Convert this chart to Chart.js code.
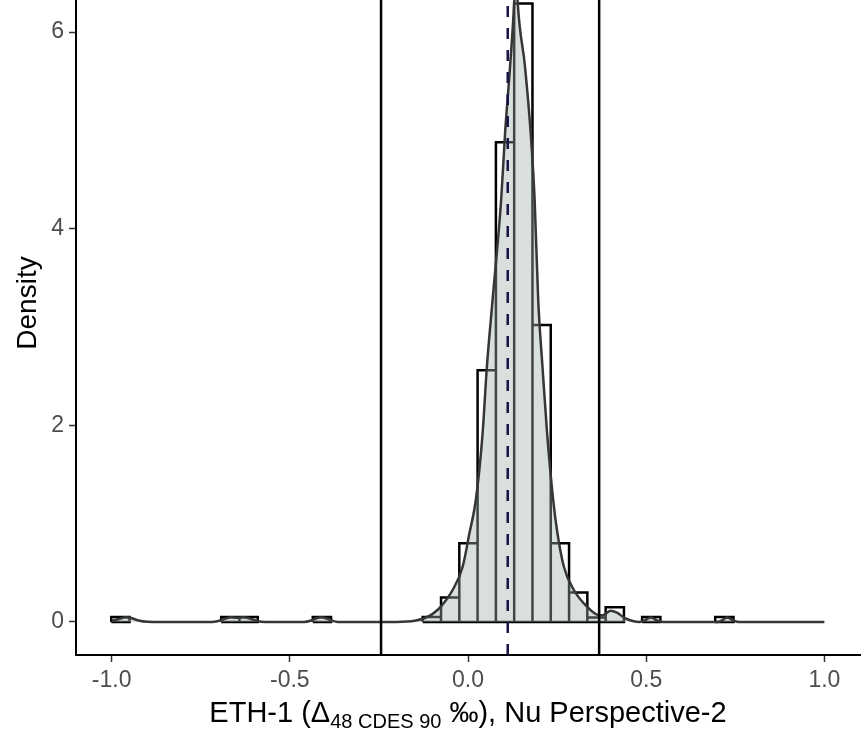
<!DOCTYPE html>
<html lang="en">
<head>
  <meta charset="UTF-8" />
  <title>ETH-1 density</title>
  <script src="https://cdn.jsdelivr.net/npm/chart.js@4.4.1/dist/chart.umd.min.js"></script>
  <style>
    body { margin: 0; background: white; }
    .chart-container { width: 865px; height: 738px; }
  </style>
</head>
<body>
  <div class="chart-container">
    <canvas id="densityChart"></canvas>
  </div>

  <script>
    // histogram bins (left edge, density)
    const binWidth = 0.0513;
    const binLeft = [-1.001, -0.6926, -0.6413, -0.4356, -0.1271, -0.0757, -0.0244, 0.0269, 0.0783,
                     0.1296, 0.1809, 0.2323, 0.2836, 0.3349, 0.3863, 0.4886, 0.6937];
    const binHeight = [0.05, 0.05, 0.05, 0.05, 0.05, 0.25, 0.80, 2.56, 4.88,
                       6.29, 3.02, 0.80, 0.30, 0.045, 0.15, 0.05, 0.05];

    // kernel density curve
    const densX = [-1.000, -0.980, -0.960, -0.945, -0.925, -0.900, -0.860,
                   -0.720, -0.700, -0.680, -0.665, -0.648, -0.630, -0.612, -0.592, -0.570,
                   -0.460, -0.440, -0.425, -0.412, -0.398, -0.383, -0.365,
                   -0.200, -0.170, -0.150, -0.123, -0.100, -0.076, -0.043, -0.015,
                   0.004, 0.022, 0.041, 0.053, 0.069, 0.093, 0.104, 0.118, 0.130, 0.1345,
                   0.139, 0.160, 0.176, 0.187, 0.197, 0.209, 0.222, 0.239, 0.251, 0.269,
                   0.297, 0.334, 0.362, 0.378, 0.400, 0.418, 0.440, 0.465,
                   0.480, 0.495, 0.513, 0.531, 0.548,
                   0.700, 0.712, 0.727, 0.745, 0.760, 1.000];
    const densY = [0.010, 0.030, 0.048, 0.040, 0.015, 0.002, 0.000,
                   0.000, 0.010, 0.035, 0.048, 0.044, 0.048, 0.035, 0.010, 0.000,
                   0.000, 0.015, 0.038, 0.048, 0.038, 0.015, 0.000,
                   0.000, 0.004, 0.012, 0.038, 0.080, 0.156, 0.325, 0.562,
                   0.902, 1.241, 1.919, 2.596, 3.275, 4.292, 4.970, 5.647, 6.326, 6.720,
                   6.326, 5.647, 4.970, 4.292, 3.275, 2.596, 1.919, 1.241, 0.902, 0.562,
                   0.325, 0.156, 0.075, 0.068, 0.115, 0.095, 0.040, 0.008,
                   0.000, 0.015, 0.045, 0.015, 0.000,
                   0.000, 0.015, 0.045, 0.015, 0.000, 0.000];

    const limitX = [-0.244, 0.368];   // solid lines
    const meanX = 0.1115;             // dashed line

    const xTicks = [-1, -0.5, 0, 0.5, 1];
    const yTicks = [0, 2, 4, 6];
    const xRange = [-1.1, 1.1];
    const yRange = [-0.336, 6.326];

    const FONT = '"Liberation Sans", Arial, sans-serif';

    // rectangles of the histogram, separated by gaps
    const histPoints = [];
    binLeft.forEach((l, i) => {
      const r = l + binWidth, h = binHeight[i];
      histPoints.push({x: l, y: 0}, {x: l, y: h}, {x: r, y: h}, {x: r, y: 0}, {x: l, y: 0}, {x: l, y: null});
    });

    const vline = x => [{x: x, y: yRange[0]}, {x: x, y: yRange[1]}];

    const axisTitles = {
      id: 'axisTitles',
      afterDraw(chart) {
        const c = chart.ctx;
        c.save();
        c.fillStyle = '#000';
        // y title
        c.font = '28px ' + FONT;
        c.textAlign = 'center';
        c.textBaseline = 'middle';
        c.translate(28, 303);
        c.rotate(-Math.PI / 2);
        c.fillText('Density', 0, 0);
        c.restore();

        // x title with subscript
        c.save();
        c.fillStyle = '#000';
        c.textBaseline = 'alphabetic';
        c.textAlign = 'left';
        const parts = [
          {t: 'ETH-1 (Δ', f: '29px ' + FONT, dy: 0},
          {t: '48 CDES 90', f: '20px ' + FONT, dy: 6},
          {t: ' ‰), Nu Perspective-2', f: '29px ' + FONT, dy: 0}
        ];
        let total = 0;
        parts.forEach(p => { c.font = p.f; p.w = c.measureText(p.t).width; total += p.w; });
        let x = (chart.chartArea.left + chart.chartArea.right) / 2 - total / 2;
        const base = 722;
        parts.forEach(p => { c.font = p.f; c.fillText(p.t, x, base + p.dy); x += p.w; });
        c.restore();
      }
    };

    const ctx = document.getElementById('densityChart').getContext('2d');
    new Chart(ctx, {
      type: 'line',
      data: {
        datasets: [
          {
            data: vline(limitX[0]),
            borderColor: '#000', borderWidth: 2.5, pointRadius: 0
          },
          {
            data: vline(limitX[1]),
            borderColor: '#000', borderWidth: 2.5, pointRadius: 0
          },
          {
            data: vline(meanX),
            borderColor: '#191446', borderWidth: 2.5, borderDash: [11, 11], pointRadius: 0
          },
          {
            data: densX.map((x, i) => ({x: x, y: densY[i]})),
            borderColor: '#363636', borderWidth: 2.5, pointRadius: 0,
            cubicInterpolationMode: 'monotone',
            fill: 'origin', backgroundColor: 'rgba(160,175,168,0.4)'
          },
          {
            data: histPoints,
            borderColor: '#000', borderWidth: 2.5, pointRadius: 0,
            spanGaps: false, borderJoinStyle: 'miter'
          }
        ]
      },
      options: {
        responsive: true,
        maintainAspectRatio: false,
        animation: false,
        layout: { padding: { top: 0, right: 5, left: 0, bottom: 0 } },
        plugins: {
          legend: { display: false },
          tooltip: { enabled: false }
        },
        scales: {
          x: {
            type: 'linear',
            min: xRange[0],
            max: xRange[1],
            afterBuildTicks: s => { s.ticks = xTicks.map(v => ({value: v})); },
            afterFit: s => { s.height = 83; s.paddingLeft = 0; s.paddingRight = 0; },
            ticks: {
              color: '#4d4d4d',
              font: { family: FONT, size: 23 },
              padding: 5,
              maxRotation: 0,
              callback: v => v.toFixed(1)
            },
            grid: { drawOnChartArea: false, tickLength: 7, tickColor: '#333', tickWidth: 1.5 },
            border: { color: '#000', width: 2 }
          },
          y: {
            min: yRange[0],
            max: yRange[1],
            afterBuildTicks: s => { s.ticks = yTicks.map(v => ({value: v})); },
            afterFit: s => { s.width = 76; s.paddingTop = 0; s.paddingBottom = 0; },
            ticks: {
              color: '#4d4d4d',
              font: { family: FONT, size: 23 },
              padding: 5,
              callback: v => String(v)
            },
            grid: { drawOnChartArea: false, tickLength: 7, tickColor: '#333', tickWidth: 1.5 },
            border: { color: '#000', width: 2 }
          }
        }
      },
      plugins: [axisTitles]
    });
  </script>
</body>
</html>
